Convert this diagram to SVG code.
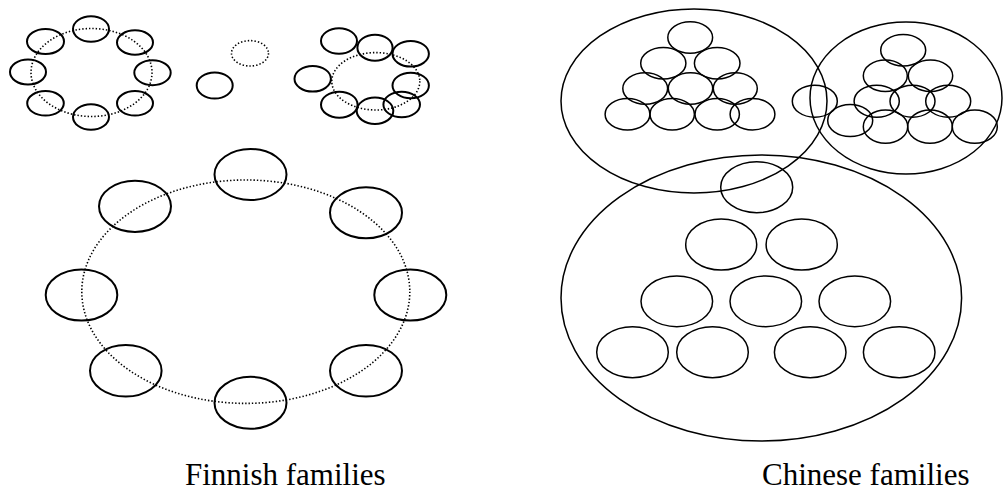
<svg xmlns="http://www.w3.org/2000/svg" width="1004" height="491" viewBox="0 0 1004 491">
  <style>
    .fi { fill: none; stroke: #000; stroke-width: 2; }
    .ch { fill: none; stroke: #000; stroke-width: 1.5; }
    .ring { fill: none; stroke: #000; stroke-width: 1.6; stroke-dasharray: 1.4 2; }
    .label { font-family: "Liberation Serif", "Times New Roman", serif; font-size: 31px; fill: #000; }
  </style>
  <rect width="1004" height="491" fill="#fff"/>

  <!-- dotted circles that hold the Finnish families together -->
  <g id="rings">
    <ellipse class="ring" cx="91.5" cy="72.5" rx="60.5" ry="44"/>
    <ellipse class="ring" cx="250" cy="53.3" rx="18.5" ry="12.7"/>
    <ellipse class="ring" cx="375.8" cy="81.3" rx="44" ry="28.7"/>
    <ellipse class="ring" cx="245.8" cy="291.7" rx="164" ry="111.7"/>
  </g>

  <!-- Finnish: small ring, top left -->
  <g id="fin-small-ring">
    <g id="fa1"><ellipse class="fi" cx="91" cy="29" rx="18" ry="12.8"/></g>
    <g id="fa2"><ellipse class="fi" cx="45.5" cy="41.5" rx="18.5" ry="12.5"/></g>
    <g id="fa3"><ellipse class="fi" cx="135" cy="42.5" rx="18" ry="12.2"/></g>
    <g id="fa4"><ellipse class="fi" cx="28" cy="72" rx="18" ry="12.5"/></g>
    <g id="fa5"><ellipse class="fi" cx="152.5" cy="72.7" rx="18.2" ry="12.5"/></g>
    <g id="fa6"><ellipse class="fi" cx="45.5" cy="103.3" rx="18.3" ry="12.3"/></g>
    <g id="fa7"><ellipse class="fi" cx="135" cy="103.3" rx="18" ry="12.3"/></g>
    <g id="fa8"><ellipse class="fi" cx="91" cy="117" rx="18" ry="12.8"/></g>
  </g>

  <!-- Finnish: single person -->
  <g id="fin-single">
    <g id="fb1"><ellipse class="fi" cx="214.7" cy="85.5" rx="18" ry="13"/></g>
  </g>

  <!-- Finnish: ring with members drifting out, top right -->
  <g id="fin-loose-ring">
    <g id="fc1"><ellipse class="fi" cx="339" cy="41" rx="18" ry="12.7"/></g>
    <g id="fc2"><ellipse class="fi" cx="375" cy="47.7" rx="17.6" ry="13"/></g>
    <g id="fc3"><ellipse class="fi" cx="410.7" cy="53.8" rx="18.2" ry="12.8"/></g>
    <g id="fc4"><ellipse class="fi" cx="312.7" cy="78.8" rx="18.2" ry="12.8"/></g>
    <g id="fc5"><ellipse class="fi" cx="410.7" cy="85.5" rx="18.2" ry="12.8"/></g>
    <g id="fc6"><ellipse class="fi" cx="339.3" cy="104.7" rx="18.3" ry="13"/></g>
    <g id="fc7"><ellipse class="fi" cx="375" cy="110.8" rx="18.3" ry="13.2"/></g>
    <g id="fc8"><ellipse class="fi" cx="401.7" cy="104.5" rx="18.3" ry="12.8"/></g>
  </g>

  <!-- Finnish: large ring -->
  <g id="fin-large-ring">
    <g id="fd1"><ellipse class="fi" cx="250.5" cy="174.5" rx="36" ry="25.5"/></g>
    <g id="fd2"><ellipse class="fi" cx="135" cy="206.3" rx="36" ry="25.6"/></g>
    <g id="fd3"><ellipse class="fi" cx="366" cy="212.8" rx="36" ry="25.5"/></g>
    <g id="fd4"><ellipse class="fi" cx="81.5" cy="295" rx="35.8" ry="25.6"/></g>
    <g id="fd5"><ellipse class="fi" cx="410.3" cy="295" rx="36" ry="25.6"/></g>
    <g id="fd6"><ellipse class="fi" cx="125.8" cy="370.8" rx="35.8" ry="25.8"/></g>
    <g id="fd7"><ellipse class="fi" cx="366" cy="370.8" rx="36" ry="25.8"/></g>
    <g id="fd8"><ellipse class="fi" cx="250.5" cy="402.8" rx="36" ry="26"/></g>
  </g>

  <!-- Chinese: upper left family -->
  <g id="chn-a">
    <g id="ca0"><ellipse class="ch" cx="694" cy="101" rx="133" ry="92"/></g>
    <g id="ca1"><ellipse class="ch" cx="690.2" cy="37.5" rx="22.4" ry="15.8"/></g>
    <g id="ca2"><ellipse class="ch" cx="663.3" cy="63.2" rx="22.6" ry="15.8"/></g>
    <g id="ca3"><ellipse class="ch" cx="717.2" cy="63.2" rx="22.8" ry="15.8"/></g>
    <g id="ca4"><ellipse class="ch" cx="645.2" cy="88.5" rx="22.4" ry="15.8"/></g>
    <g id="ca5"><ellipse class="ch" cx="690.5" cy="88.5" rx="22.2" ry="15.8"/></g>
    <g id="ca6"><ellipse class="ch" cx="735.3" cy="88.5" rx="22" ry="15.8"/></g>
    <g id="ca7"><ellipse class="ch" cx="627.5" cy="114.2" rx="22.4" ry="15.8"/></g>
    <g id="ca8"><ellipse class="ch" cx="672.2" cy="114.2" rx="22.2" ry="15.8"/></g>
    <g id="ca9"><ellipse class="ch" cx="717.2" cy="114.2" rx="22.2" ry="15.8"/></g>
    <g id="ca10"><ellipse class="ch" cx="752.5" cy="114.2" rx="22.4" ry="15.8"/></g>
  </g>

  <!-- Chinese: member shared between the two upper families -->
  <g id="chn-bridge">
    <g id="cx1"><ellipse class="ch" cx="814.8" cy="101.2" rx="22.5" ry="16"/></g>
  </g>

  <!-- Chinese: upper right family -->
  <g id="chn-b">
    <g id="cb0"><ellipse class="ch" cx="906" cy="98" rx="96" ry="76"/></g>
    <g id="cb1"><ellipse class="ch" cx="903.2" cy="50.2" rx="22.5" ry="15.8"/></g>
    <g id="cb2"><ellipse class="ch" cx="885.3" cy="75.8" rx="22" ry="15.8"/></g>
    <g id="cb3"><ellipse class="ch" cx="930.5" cy="75.8" rx="22.2" ry="15.8"/></g>
    <g id="cb4"><ellipse class="ch" cx="876.7" cy="101.2" rx="22.6" ry="16"/></g>
    <g id="cb5"><ellipse class="ch" cx="912.5" cy="101.2" rx="22.5" ry="16"/></g>
    <g id="cb6"><ellipse class="ch" cx="948.2" cy="101.2" rx="22.5" ry="16"/></g>
    <g id="cb7"><ellipse class="ch" cx="850.2" cy="120.5" rx="22.5" ry="16"/></g>
    <g id="cb8"><ellipse class="ch" cx="885.5" cy="126.7" rx="22.2" ry="16.6"/></g>
    <g id="cb9"><ellipse class="ch" cx="930" cy="126.7" rx="22.3" ry="16.6"/></g>
    <g id="cb10"><ellipse class="ch" cx="974.8" cy="126.7" rx="22.5" ry="16.6"/></g>
  </g>

  <!-- Chinese: large lower family -->
  <g id="chn-c">
    <g id="cc0"><ellipse class="ch" cx="761.3" cy="298" rx="200.3" ry="143"/></g>
    <g id="cc1"><ellipse class="ch" cx="756.7" cy="187.2" rx="36" ry="25.5"/></g>
    <g id="cc2"><ellipse class="ch" cx="721.2" cy="244.5" rx="35.5" ry="25.5"/></g>
    <g id="cc3"><ellipse class="ch" cx="801.7" cy="244.5" rx="35.6" ry="25.5"/></g>
    <g id="cc4"><ellipse class="ch" cx="676.8" cy="301.3" rx="35.8" ry="25.4"/></g>
    <g id="cc5"><ellipse class="ch" cx="765.8" cy="301.3" rx="35.8" ry="25.4"/></g>
    <g id="cc6"><ellipse class="ch" cx="854.8" cy="301.3" rx="35.8" ry="25.4"/></g>
    <g id="cc7"><ellipse class="ch" cx="632.5" cy="352.2" rx="35.8" ry="25.5"/></g>
    <g id="cc8"><ellipse class="ch" cx="712.5" cy="352.2" rx="35.8" ry="25.5"/></g>
    <g id="cc9"><ellipse class="ch" cx="810.2" cy="352.2" rx="35.8" ry="25.5"/></g>
    <g id="cc10"><ellipse class="ch" cx="899.2" cy="352.2" rx="35.8" ry="25.5"/></g>
  </g>

  <!-- captions -->
  <g id="captions">
    <text class="label" x="185" y="485">Finnish families</text>
    <text class="label" x="762" y="485">Chinese families</text>
  </g>
</svg>
